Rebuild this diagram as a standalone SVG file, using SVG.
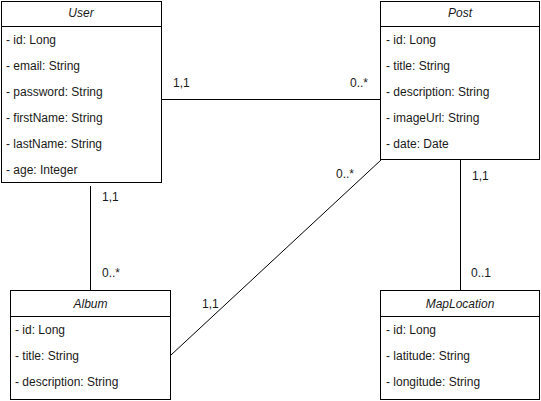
<svg xmlns="http://www.w3.org/2000/svg" width="541" height="401" viewBox="0 0 541 401">
<style>
.box{fill:#fff;stroke:#000;stroke-width:1}
.sep{stroke:#000;stroke-width:1}
.t{font-family:"Liberation Sans",Arial,Helvetica,sans-serif;font-size:12px;fill:#1a1a1a}
.h{font-style:italic;text-anchor:middle}
.conn{stroke:#000;stroke-width:1;fill:none}
</style>
<rect x="0" y="0" width="541" height="401" fill="#fff"/>
<g id="connectors">
<line class="conn" x1="161" y1="99.5" x2="381" y2="99.5"/>
<line class="conn" x1="90.5" y1="186" x2="90.5" y2="290"/>
<line class="conn" x1="381" y1="160" x2="171" y2="355"/>
<line class="conn" x1="460.5" y1="160" x2="460.5" y2="290"/>
<text class="t" x="173" y="87">1,1</text>
<text class="t" x="350" y="87">0..*</text>
<text class="t" x="102" y="201">1,1</text>
<text class="t" x="102" y="277">0..*</text>
<text class="t" x="336" y="178">0..*</text>
<text class="t" x="202" y="308">1,1</text>
<text class="t" x="472" y="180">1,1</text>
<text class="t" x="471" y="277">0..1</text>
</g>
<g id="User">
<rect class="box" x="1.5" y="1.5" width="160" height="181"/>
<line class="sep" x1="1.5" y1="26.5" x2="161.5" y2="26.5"/>
<text class="t h" x="81" y="17">User</text>
<text class="t" x="6" y="44">- id: Long</text>
<text class="t" x="6" y="70">- email: String</text>
<text class="t" x="6" y="96">- password: String</text>
<text class="t" x="6" y="122">- firstName: String</text>
<text class="t" x="6" y="148">- lastName: String</text>
<text class="t" x="6" y="174">- age: Integer</text>
</g>
<g id="Post">
<rect class="box" x="380.5" y="1.5" width="159" height="158"/>
<line class="sep" x1="380.5" y1="26.5" x2="539.5" y2="26.5"/>
<text class="t h" x="460" y="17">Post</text>
<text class="t" x="386" y="44">- id: Long</text>
<text class="t" x="386" y="70">- title: String</text>
<text class="t" x="386" y="96">- description: String</text>
<text class="t" x="386" y="122">- imageUrl: String</text>
<text class="t" x="386" y="148">- date: Date</text>
</g>
<g id="Album">
<rect class="box" x="10.5" y="290.5" width="160" height="109"/>
<line class="sep" x1="10.5" y1="316.5" x2="170.5" y2="316.5"/>
<text class="t h" x="90.5" y="308">Album</text>
<text class="t" x="15" y="334">- id: Long</text>
<text class="t" x="15" y="360">- title: String</text>
<text class="t" x="15" y="386">- description: String</text>
</g>
<g id="MapLocation">
<rect class="box" x="380.5" y="290.5" width="159" height="109"/>
<line class="sep" x1="380.5" y1="316.5" x2="539.5" y2="316.5"/>
<text class="t h" x="460" y="308">MapLocation</text>
<text class="t" x="386" y="334">- id: Long</text>
<text class="t" x="386" y="360">- latitude: String</text>
<text class="t" x="386" y="386">- longitude: String</text>
</g>
</svg>
